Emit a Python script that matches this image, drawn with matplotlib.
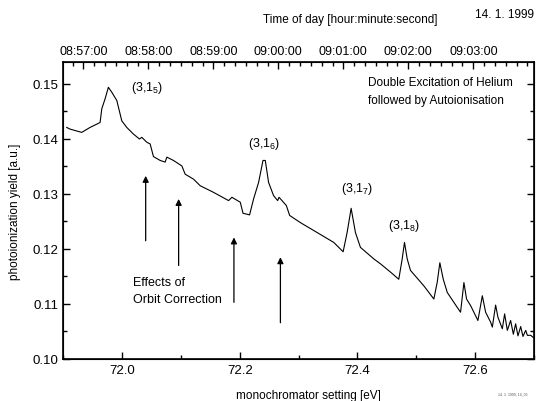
import matplotlib
matplotlib.use("Agg")
import matplotlib.pyplot as plt
from matplotlib.ticker import MultipleLocator, FuncFormatter

plt.rcParams['font.family'] = ['Liberation Sans', 'DejaVu Sans']
plt.rcParams['mathtext.fontset'] = 'custom'
plt.rcParams['mathtext.rm'] = 'Liberation Sans'
plt.rcParams['mathtext.it'] = 'Liberation Sans'

# photon energy [eV]
energy = [71.9058, 71.9114, 71.9313, 71.9454, 71.9569, 71.9625, 71.9654, 71.9710,
          71.9766, 71.9824, 71.9909, 71.9994, 72.0079, 72.0191, 72.0294, 72.0334,
          72.0420, 72.0476, 72.0532, 72.0646, 72.0731, 72.0760, 72.0872, 72.1015,
          72.1071, 72.1213, 72.1327, 72.1553, 72.1809, 72.1866, 72.2008, 72.2054,
          72.2166, 72.2234, 72.2319, 72.2394, 72.2433, 72.2489, 72.2574, 72.2643,
          72.2666, 72.2717, 72.2791, 72.2847, 72.3029, 72.3313, 72.3596, 72.3756,
          72.3824, 72.3892, 72.3965, 72.4050, 72.4277, 72.4391, 72.4561, 72.4702,
          72.4760, 72.4799, 72.4845, 72.4901, 72.5128, 72.5298, 72.5356, 72.5400,
          72.5458, 72.5526, 72.5638, 72.5752, 72.5809, 72.5854, 72.5923, 72.6047,
          72.6122, 72.6178, 72.6263, 72.6292, 72.6348, 72.6387, 72.6462, 72.6501,
          72.6547, 72.6603, 72.6649, 72.6688, 72.6728, 72.6774, 72.6813, 72.6859,
          72.6888, 72.6944, 72.6990]
# photoionization yield [a.u.]
yield_ = [0.1421, 0.1418, 0.1412, 0.1421, 0.1427, 0.1430, 0.1455, 0.1473,
          0.1494, 0.1485, 0.1470, 0.1433, 0.1421, 0.1409, 0.1400, 0.1403,
          0.1394, 0.1391, 0.1368, 0.1361, 0.1358, 0.1367, 0.1361, 0.1351,
          0.1336, 0.1327, 0.1315, 0.1303, 0.1288, 0.1294, 0.1285, 0.1265,
          0.1262, 0.1291, 0.1321, 0.1361, 0.1361, 0.1321, 0.1297, 0.1288,
          0.1294, 0.1288, 0.1279, 0.1261, 0.1248, 0.1230, 0.1212, 0.1195,
          0.1230, 0.1274, 0.1230, 0.1203, 0.1182, 0.1173, 0.1158, 0.1145,
          0.1182, 0.1212, 0.1182, 0.1161, 0.1133, 0.1109, 0.1140, 0.1175,
          0.1145, 0.1121, 0.1103, 0.1085, 0.1139, 0.1109, 0.1097, 0.1070,
          0.1115, 0.1085, 0.1067, 0.1058, 0.1098, 0.1076, 0.1055, 0.1082,
          0.1052, 0.1070, 0.1045, 0.1064, 0.1042, 0.1059, 0.1041, 0.1052,
          0.1043, 0.1043, 0.1039]

peak_labels = ["(3,1$_5$)", "(3,1$_6$)", "(3,1$_7$)", "(3,1$_8$)"]
peak_label_x = [72.042, 72.241, 72.400, 72.479]
peak_label_y = [0.1495, 0.1393, 0.1311, 0.1243]

arrow_x = [72.040, 72.096, 72.190, 72.269]
arrow_tail = [0.1215, 0.1170, 0.1103, 0.1066]
arrow_head = [0.1333, 0.1291, 0.1221, 0.1185]

time_ticks = [0, 60, 120, 180, 240, 300, 360]
time_labels = ["08:57:00", "08:58:00", "08:59:00", "09:00:00",
               "09:01:00", "09:02:00", "09:03:00"]

fig = plt.figure(figsize=(5.43, 4.02), dpi=100)
ax = fig.add_axes([0.1166, 0.1045, 0.8668, 0.7388])
ax.plot(energy, yield_, color='black', lw=0.8)
ax.set_xlim(71.9, 72.7)
ax.set_ylim(0.10, 0.154)
ax.xaxis.set_major_locator(MultipleLocator(0.2))
ax.xaxis.set_minor_locator(MultipleLocator(0.1))
ax.yaxis.set_major_locator(MultipleLocator(0.01))
ax.yaxis.set_minor_locator(MultipleLocator(0.005))
ax.xaxis.set_major_formatter(FuncFormatter(lambda v, p: f"{v:.1f}"))
ax.yaxis.set_major_formatter(FuncFormatter(lambda v, p: f"{v:.2f}"))
ax.tick_params(which='both', direction='in', right=True, top=False,
               labelsize=9.5, width=1.0)
ax.tick_params(which='major', length=5)
ax.tick_params(which='minor', length=3)
for s in ax.spines.values():
    s.set_linewidth(1.2)
ax.set_xlabel("monochromator setting [eV]", fontsize=8.5, labelpad=10)
ax.xaxis.set_label_coords(0.52, -0.1)
ax.set_ylabel("photoionization yield [a.u.]", fontsize=8.5, labelpad=8)

for lab, x, y in zip(peak_labels, peak_label_x, peak_label_y):
    ax.text(x, y, lab, fontsize=9, ha='center', va='center')

for x, t, h in zip(arrow_x, arrow_tail, arrow_head):
    ax.annotate("", xy=(x, h), xytext=(x, t),
                arrowprops=dict(arrowstyle='-|>', color='black', lw=0.9,
                                mutation_scale=9, shrinkA=0, shrinkB=0))

ax.text(72.4185, 0.1487, "Double Excitation of Helium\nfollowed by Autoionisation",
        fontsize=8.5, ha='left', va='center', linespacing=1.65)
ax.text(72.019, 0.1124, "Effects of\nOrbit Correction",
        fontsize=9, ha='left', va='center', linespacing=1.6)

ax2 = ax.twiny()
ax2.set_xlim(-18.5, 416)
ax2.set_xticks(time_ticks)
ax2.set_xticklabels(time_labels)
ax2.xaxis.set_minor_locator(MultipleLocator(10))
ax2.tick_params(which='both', direction='in', labelsize=9, width=1.0)
ax2.tick_params(which='major', length=5)
ax2.tick_params(which='minor', length=3)
ax2.set_xlabel("Time of day [hour:minute:second]", fontsize=8.5, labelpad=10)
ax2.xaxis.set_label_coords(0.61, 1.135)

fig.text(0.93, 0.962, "14. 1. 1999", fontsize=8.5, ha='center', va='center')
fig.text(0.945, 0.02, "14. 1. 1999, 14_05", fontsize=2.5, ha='center',
         va='center', color='#555555')

fig.savefig("out.png", dpi=100)
